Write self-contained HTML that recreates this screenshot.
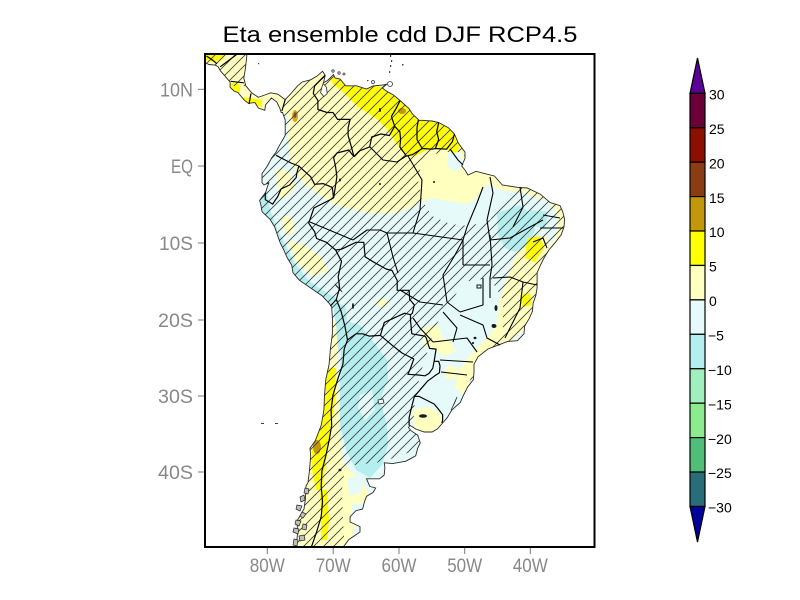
<!DOCTYPE html>
<html><head><meta charset="utf-8"><style>
html,body{margin:0;padding:0;background:#fff;}
svg{display:block;}
</style></head><body>
<svg width="800" height="600" viewBox="0 0 800 600" xmlns="http://www.w3.org/2000/svg">
<defs>
<clipPath id="frame"><rect x="205" y="54" width="389.5" height="493"/></clipPath>
<clipPath id="land"><path transform="translate(-2,0)" d="M198,51.5 L249.1,51.5 L248.5,59.1 L247.1,70.6 L245.8,78.2 L247.8,85.8 L253.7,92.8 L260.3,97.3 L266.8,95 L272.7,92.8 L279.9,94.2 L287.2,99.6 L293,93.5 L299.6,85.8 L304.2,82 L312.7,79.8 L319.3,75.9 L324.5,71.3 L327.2,75.2 L325.5,82.8 L329.6,80.5 L335.5,74.5 L337,78 L342,79 L347.6,85.8 L358.7,85.8 L368.6,89 L375,86 L385,85 L389,84 L384.3,88 L388.3,91 L395.5,95 L402.6,101 L411.1,108.7 L414.4,114 L421,120.2 L434.1,121 L440.7,122.5 L450.5,127.8 L456.4,134 L460.3,143 L467,152.2 L467,158.4 L463.7,166 L467,170 L470,175 L478,171.3 L486.6,173.6 L496.4,176 L504.3,185 L519.4,187.3 L529.2,188 L542.4,194.2 L552.2,202.6 L562,205.6 L564.7,211.7 L566.6,219.3 L566,227 L563.3,234.6 L557.4,242.3 L550.9,250 L546.3,257.5 L542.4,265.2 L539.1,272.8 L539.1,288 L537.8,295.7 L535.1,303.3 L534.5,311 L531.2,318.6 L526.6,326.2 L526,333.8 L519.4,340.7 L509.5,341.5 L499.7,345.3 L489.9,349 L480,356.8 L476,364.3 L476,372 L475.4,379.6 L469.5,387.2 L465.6,395 L462.3,402.5 L453.8,410 L449.2,417.7 L444.6,423 L439.3,429 L434.1,432 L426.3,432 L417.7,429 L411.8,425.3 L410.5,427.6 L413,430.7 L419.7,435.2 L422.3,442.8 L419.7,448.2 L417.7,455.8 L407.9,461.2 L394.7,463.6 L386.2,462.8 L386.9,467.4 L386.2,475 L381.6,478.8 L368.5,478.8 L371.8,486.4 L377.7,488 L375,492.5 L368.5,496.3 L366.5,501.6 L364.6,509.1 L358,510.6 L352.1,516.7 L352.1,522 L362,526.6 L362,532 L350.8,539.6 L342.3,551 L298,551 L299.6,532 L299,521 L306,509 L307.5,498 L308,486 L310,482.5 L311.4,471 L312.7,455.8 L312,448.2 L317.3,440.6 L323.2,425.3 L325.9,410 L326.5,395 L327.8,379.6 L331.1,364.3 L332.4,349 L334.4,333.8 L334.4,318.6 L333.7,307 L331.1,303.3 L324,295.7 L312.7,288 L301.6,280.4 L295,272.8 L293.7,265.2 L289.1,257.5 L285.8,250 L282,242.3 L279.3,234.6 L276.7,227 L272,219.3 L264,211.7 L263,205.6 L261.6,200.3 L267.5,192.7 L270.8,182.7 L266,185 L264,182.7 L264,173.6 L269.4,166 L273.4,158.4 L278,152.2 L280.6,146.9 L287.2,135.4 L287.2,120 L284.5,112.5 L283.2,112.5 L282,108.7 L278.7,101.9 L273.4,98 L267.5,104.9 L266.8,110.3 L260.3,108 L257,102.6 L250.5,103.3 L246.5,100.3 L243.9,97.3 L240,92.6 L236,91 L232.1,87.3 L232.1,82 L228.8,78.2 L222.2,70.6 L220.2,66.8 L217.6,65.2 L211,64.5 L204.5,61.4 L198,59 Z"/></clipPath>
<pattern id="hatch" patternUnits="userSpaceOnUse" width="10" height="10"><path d="M-1,1 L1,-1 M0,10 L10,0 M9,11 L11,9" stroke="#3c3c3c" stroke-width="0.8"/></pattern>
<mask id="hm" maskUnits="userSpaceOnUse" x="0" y="0" width="800" height="600">
<rect x="0" y="0" width="800" height="600" fill="#fff"/>
<path fill="#000" d="M422,160 L440,152 L462,152 L472,168 L490,174 L515,185 L512,195 L500,205 L490,220 L470,226 L450,224 L432,216 L422,200 L418,180 Z"/>
<path fill="#000" d="M440,318 L452,302 L462,282 L490,278 L503,300 L503,330 L490,345 L478,358 L470,380 L462,398 L450,415 L448,425 L440,437 L420,437 L413,428 L415,400 L420,375 L428,350 L434,330 Z"/>
<path fill="#000" d="M345,466 L382,462 L430,445 L430,552 L345,552 L343,520 L342,490 Z"/>
<path fill="#000" d="M205,86 L283,86 L283,118 L205,118 Z"/>
</mask>
</defs>

<rect x="0" y="0" width="800" height="600" fill="#fff"/>

<!-- Title -->
<text x="400" y="42" font-family="Liberation Sans, sans-serif" font-size="22" text-anchor="middle" textLength="355" lengthAdjust="spacingAndGlyphs" fill="#000">Eta ensemble cdd DJF RCP4.5</text>

<g clip-path="url(#frame)">
 <g clip-path="url(#land)">
  <rect x="190" y="45" width="420" height="520" fill="#e6fafa"/>
  <!-- north light yellow -->
  <path fill="#ffffc0" d="M200,50 L600,50 L600,212 L560,212 L545,200 L520,192 L500,190 L490,184 L483,188 L477,198 L467,204 L447,201 L433,198 L418,203 L408,209 L395,213 L375,214 L355,210 L335,205 L320,195 L305,185 L295,172 L290,158 L288,140 L289,120 L284,112 L200,114 Z"/>
  <path fill="#e6fafa" d="M448,153 L460,152 L464,165 L456,172 L447,166 Z"/>
  <!-- NE coastal yellow -->
  <path fill="#ffffc0" d="M552,205 L570,205 L570,250 L548,262 L545,250 L556,238 L558,220 Z"/>
  <!-- SE yellow -->
  <path fill="#ffffc0" d="M522,238 L548,236 L548,300 L540,320 L522,332 L502,346 L486,354 L478,366 L470,382 L463,394 L455,388 L458,372 L468,358 L480,345 L490,335 L497,322 L500,300 L506,280 L513,262 L519,248 Z"/>
  <path fill="#ffffc0" d="M435,338 L450,340 L455,352 L443,356 L433,348 Z"/>
  <path fill="#ffffc0" d="M447,365 L458,368 L455,380 L445,378 Z"/>
  <path fill="#ffffc0" d="M412,410 L430,407 L442,416 L440,428 L428,433 L415,430 Z"/>
  <path fill="#ffffc0" d="M422,328 L438,325 L443,340 L435,350 L424,346 Z"/>
  <ellipse cx="382" cy="303" rx="6" ry="4" fill="#ffffc0"/>
  <!-- Peru andes yellow -->
  <path fill="#ffffc0" d="M283,215 L293,218 L295,232 L287,236 L282,225 Z"/>
  <path fill="#ffffc0" d="M288,240 L305,245 L322,258 L328,272 L312,276 L296,262 Z"/>
  <path fill="#ffffc0" d="M276,168 L289,172 L296,186 L288,196 L280,198 L277,185 Z"/>
  <!-- Chile / Patagonia yellow -->
  <path fill="#ffffc0" d="M325,320 L338,320 L338,372 L340,433 L343,463 L357,477 L367,490 L375,505 L365,515 L355,525 L350,550 L290,550 L300,470 L315,420 Z"/>
  <path fill="#e6fafa" d="M360,466 L385,463 L383,478 L365,479 Z"/>
  <path fill="#e6fafa" d="M347,478 L360,476 L362,492 L350,496 Z"/>
  <path fill="#e6fafa" d="M352,505 L364,503 L362,518 L352,520 Z"/>
  <!-- darker cyan -->
  <path fill="#b4eeee" d="M342,320 L360,325 L372,340 L387,360 L388,380 L380,400 L387,425 L388,445 L382,465 L370,478 L356,470 L346,450 L340,425 L340,390 L341,355 Z"/>
  <path fill="#e6fafa" d="M360,395 L372,390 L375,410 L365,420 L358,408 Z"/>
  <path fill="#b4eeee" d="M259,190 L267,190 L270,210 L278,230 L288,250 L296,265 L308,280 L325,292 L340,300 L338,310 L315,300 L298,290 L285,275 L276,255 L268,235 L262,215 Z"/>
  <path fill="#b4eeee" d="M333,303 L345,305 L348,330 L345,350 L338,350 L336,325 Z"/>
  <path fill="#b4eeee" d="M497,213 L520,205 L532,215 L535,230 L528,245 L515,252 L505,248 L498,235 Z"/>
  <path fill="#b4eeee" d="M530,210 L548,212 L545,228 L532,226 Z"/>
  <!-- bright yellow -->
  <path fill="#ffff00" d="M328,76 L345,80 L360,84 L375,86 L388,88 L398,95 L408,104 L420,114 L432,119 L448,124 L456,132 L461,146 L456,153 L446,149 L436,147 L425,151 L412,157 L402,152 L394,140 L386,128 L378,120 L368,113 L358,107 L350,99 L342,91 L334,85 Z"/>
  <path fill="#ffff00" d="M205,52 L228,52 L222,60 L212,62 L205,60 Z"/>
  <path fill="#ffff00" d="M230,83 L240,84 L240,93 L232,92 Z"/>
  <path fill="#ffff00" d="M243,97 L262,100 L262,107 L246,103 Z"/>
  <path fill="#ffff00" d="M322,368 L336,368 L335,400 L330,430 L327,455 L324,475 L322,490 L316,490 L312,470 L312,450 L316,425 L319,400 Z"/>
  <path fill="#ffff00" d="M320,490 L327,490 L329,520 L327,540 L321,540 L321,515 Z"/>
  <path fill="#ffff00" d="M527,238 L540,236 L544,248 L535,262 L525,258 Z"/>
  <path fill="#ffff00" d="M520,295 L530,293 L532,305 L522,307 Z"/>
  <!-- gold / brown patches -->
  <ellipse cx="402" cy="111" rx="4" ry="3" fill="#c4960a"/>
  <ellipse cx="295" cy="116" rx="3" ry="6" fill="#d8a820"/>
  <ellipse cx="295" cy="115" rx="1.5" ry="3" fill="#a0522d"/>
  <ellipse cx="317" cy="447" rx="4" ry="7" fill="#c4960a"/>
  <!-- hatching -->
  <rect x="190" y="45" width="420" height="520" fill="url(#hatch)" mask="url(#hm)"/>
 </g>

 <!-- coastline -->
 <path transform="translate(-2,0)" fill="none" stroke="#2a2a2a" stroke-width="0.9" d="M198,51.5 L249.1,51.5 L248.5,59.1 L247.1,70.6 L245.8,78.2 L247.8,85.8 L253.7,92.8 L260.3,97.3 L266.8,95 L272.7,92.8 L279.9,94.2 L287.2,99.6 L293,93.5 L299.6,85.8 L304.2,82 L312.7,79.8 L319.3,75.9 L324.5,71.3 L327.2,75.2 L325.5,82.8 L329.6,80.5 L335.5,74.5 L337,78 L342,79 L347.6,85.8 L358.7,85.8 L368.6,89 L375,86 L385,85 L389,84 L384.3,88 L388.3,91 L395.5,95 L402.6,101 L411.1,108.7 L414.4,114 L421,120.2 L434.1,121 L440.7,122.5 L450.5,127.8 L456.4,134 L460.3,143 L467,152.2 L467,158.4 L463.7,166 L467,170 L470,175 L478,171.3 L486.6,173.6 L496.4,176 L504.3,185 L519.4,187.3 L529.2,188 L542.4,194.2 L552.2,202.6 L562,205.6 L564.7,211.7 L566.6,219.3 L566,227 L563.3,234.6 L557.4,242.3 L550.9,250 L546.3,257.5 L542.4,265.2 L539.1,272.8 L539.1,288 L537.8,295.7 L535.1,303.3 L534.5,311 L531.2,318.6 L526.6,326.2 L526,333.8 L519.4,340.7 L509.5,341.5 L499.7,345.3 L489.9,349 L480,356.8 L476,364.3 L476,372 L475.4,379.6 L469.5,387.2 L465.6,395 L462.3,402.5 L453.8,410 L449.2,417.7 L444.6,423 L439.3,429 L434.1,432 L426.3,432 L417.7,429 L411.8,425.3 L410.5,427.6 L413,430.7 L419.7,435.2 L422.3,442.8 L419.7,448.2 L417.7,455.8 L407.9,461.2 L394.7,463.6 L386.2,462.8 L386.9,467.4 L386.2,475 L381.6,478.8 L368.5,478.8 L371.8,486.4 L377.7,488 L375,492.5 L368.5,496.3 L366.5,501.6 L364.6,509.1 L358,510.6 L352.1,516.7 L352.1,522 L362,526.6 L362,532 L350.8,539.6 L342.3,551 M298,551 L299.6,532 L299,521 L306,509 L307.5,498 L308,486 L310,482.5 L311.4,471 L312.7,455.8 L312,448.2 L317.3,440.6 L323.2,425.3 L325.9,410 L326.5,395 L327.8,379.6 L331.1,364.3 L332.4,349 L334.4,333.8 L334.4,318.6 L333.7,307 L331.1,303.3 L324,295.7 L312.7,288 L301.6,280.4 L295,272.8 L293.7,265.2 L289.1,257.5 L285.8,250 L282,242.3 L279.3,234.6 L276.7,227 L272,219.3 L264,211.7 L263,205.6 L261.6,200.3 L267.5,192.7 L270.8,182.7 L266,185 L264,182.7 L264,173.6 L269.4,166 L273.4,158.4 L278,152.2 L280.6,146.9 L287.2,135.4 L287.2,120 L284.5,112.5 L283.2,112.5 L282,108.7 L278.7,101.9 L273.4,98 L267.5,104.9 L266.8,110.3 L260.3,108 L257,102.6 L250.5,103.3 L246.5,100.3 L243.9,97.3 L240,92.6 L236,91 L232.1,87.3 L232.1,82 L228.8,78.2 L222.2,70.6 L220.2,66.8 L217.6,65.2 L211,64.5 L204.5,61.4 L198,59"/>

 <!-- lakes & islands -->
 <g transform="translate(-2,0)" fill="#fff" stroke="#2a2a2a" stroke-width="0.8">
  <path d="M325.2,83.5 L328.5,87.3 L329.2,93.5 L325.9,96.6 L322.6,92.8 L324,86.6 Z"/>
  <path d="M337,284 L342.3,289.6 L344.2,292 L339,286.8 Z"/>
  <path d="M459,397 L455,406 L453,410 L457,402 Z"/>
  <path d="M380,400 L385,399 L386,403 L381,404 Z"/>
 </g>
 <g fill="#1a1a1a" stroke="none">
  <ellipse cx="423" cy="416" rx="4" ry="1.8"/>
  <ellipse cx="496" cy="308" rx="1.5" ry="3"/>
  <ellipse cx="494" cy="326" rx="2.5" ry="2"/>
  <ellipse cx="475" cy="338" rx="1.5" ry="1.2"/>
  <ellipse cx="493" cy="325" rx="1" ry="1"/>
  <ellipse cx="473" cy="343" rx="1.2" ry="1"/>
  <ellipse cx="353" cy="306" rx="1" ry="3"/>
  <ellipse cx="340" cy="180" rx="1" ry="1.5"/>
  <ellipse cx="380" cy="184" rx="1" ry="1"/>
  <ellipse cx="434" cy="182" rx="1" ry="1"/>
  <ellipse cx="380" cy="110" rx="1" ry="2"/>
  <ellipse cx="340" cy="470" rx="1.5" ry="1.2"/>
 </g>
 <rect x="477" y="285" width="4" height="3" fill="none" stroke="#000" stroke-width="0.9"/>
 <!-- Caribbean & Pacific islands -->
 <g fill="#fff" stroke="#333" stroke-width="0.8">
  <circle cx="390" cy="84" r="2.5"/>
  <circle cx="373" cy="82" r="1.5"/>
  <circle cx="333" cy="71" r="1.2"/>
  <circle cx="339" cy="73" r="1.2"/>
  <circle cx="344" cy="74" r="1"/>
 </g>
 <g fill="#444">
  <rect x="390" y="55" width="1.2" height="2"/><rect x="391" y="60" width="1.2" height="2"/>
  <rect x="390" y="65" width="1.2" height="2"/><rect x="389" y="71" width="1.2" height="2"/>
  <rect x="402" y="64" width="1.5" height="1.5"/><rect x="258" y="63" width="1.2" height="1.2"/>
  <rect x="261" y="423" width="3" height="1"/><rect x="275" y="423" width="3" height="1"/>
  <rect x="367" y="80" width="1.5" height="1.2"/>
 </g>
 <!-- Chilean archipelago -->
 <g fill="#bfbfbf" stroke="#222" stroke-width="0.7">
  <path d="M300,497 L304,495 L305,500 L301,502 Z"/>
  <path d="M297,505 L302,506 L300,511 L296,509 Z"/>
  <path d="M302,512 L306,514 L303,518 L300,516 Z"/>
  <path d="M296,520 L301,521 L299,526 L295,524 Z"/>
  <path d="M294,528 L299,529 L298,534 L293,532 Z"/>
  <path d="M299,536 L304,535 L305,540 L300,541 Z"/>
  <path d="M294,539 L298,540 L297,546 L293,545 Z"/>
  <path d="M303,524 L307,525 L306,530 L302,529 Z"/>
  <path d="M305,488 L309,489 L308,494 L304,493 Z"/>
 </g>

 <!-- country borders -->
 <g transform="translate(-2,0)" fill="none" stroke="#000" stroke-width="1.2" stroke-linejoin="round">
  <polyline points="327.2,75.6 320.5,82 316.6,86 315.3,93.5 319.9,100.4 319.9,109.5 329.1,112.5 335,112.5 339.6,119.4 352.1,119.4 350.1,127.8 350.1,135.4 353.4,146.9 356,156.8"/>
  <polyline points="356,156.8 350.7,150 338.9,153 335.6,157.6 337.6,166.8 338.9,176.7 335.6,198"/>
  <polyline points="335.6,198 334.3,187.4 325.1,183.6 316.6,184.3 312.6,176.7 307.4,172.1 300.8,166 293,163 287.1,160 278.1,155.3"/>
  <polyline points="300.8,166 298.9,172.9 298.2,177.5 291.6,185 283.1,188.9 279.8,196.5 274.6,204.1 267.3,199.6 267.3,192.7"/>
  <polyline points="335.6,198 315.9,208 310.7,223.2 316.6,231.6 318.6,238.5 328.4,242.3 337.6,250"/>
  <polyline points="337.6,250 343.5,261.3 340.2,276.6 341.6,288 338.3,299.5 332.4,306"/>
  <polyline points="338.3,299.5 343,311 346.9,326.1 349.5,339.9"/>
  <polyline points="349.5,339.9 346.2,349.1 344.9,364.3 339.6,379.6 335,395 333.1,410 333.7,425.3 331.1,440.6 327.8,455.8 323.9,471 323.2,486.4 324.5,501.6 323.2,516.7 318.6,532 313.3,547.2 318.6,555"/>
  <polyline points="349.5,339.9 358,333.8 364.6,333.8 371.2,336.1 382.4,335.4"/>
  <polyline points="382.4,335.4 386.3,322.4 406.6,313.2 412.5,314.7 412.5,320"/>
  <polyline points="337.6,250 343.5,249.2 358,242.3 365.8,242.3 367.1,256.8 374.3,261.3 388.1,269 394,270.5 399.2,280.4 399.2,290.3 411.1,290.3 411.7,299.5 416.3,304.8 414.4,313.2 412.5,314.7"/>
  <polyline points="412.5,320 413.8,333.8 426.9,336.1 428.2,337.7 431.5,348.4 438.1,349.1 436.1,361.3"/>
  <polyline points="382.4,335.4 394.2,345.3 404,353 415.8,359 412.5,368.2 409.9,374.3 420.4,375 427,375.8 430.9,373.5 434.8,368.2 436.1,361.3"/>
  <polyline points="436.1,361.3 440.7,361.3 442,365.9 441.4,372.8 436.8,375.8 429.5,381.2 423,388.8 416.4,396.4"/>
  <polyline points="416.4,396.4 413.8,406.3 411.1,417.8 411.1,425.4"/>
  <polyline points="416.4,396.4 421,396.4 430.2,401 436.1,404 440,408.6 444.6,414.7 444.6,420 444,423"/>
  <polyline points="356,156.8 361.9,150.7 371.7,146.9 373.7,137 382.9,134 391.4,135.5 396.7,126.3"/>
  <polyline points="396.7,126.3 393.4,116.4 398,108.7 401.9,101"/>
  <polyline points="396.7,126.3 401.9,131.9 402.6,139.5 401.9,147 408.5,156.1 414.4,154.6 420.9,150.7 424.2,148.5"/>
  <polyline points="424.2,148.5 419,139.5 419,127.8 420.3,120.2"/>
  <polyline points="424.2,148.5 434.1,149.2 437.4,148.5 448.5,149.2 454.4,141.6 456.4,134"/>
  <polyline points="437.4,148.5 440.7,139.5 438.7,131.9 440.7,122.5"/>
  <polyline points="287.2,99.6 283.9,111"/>
  <polyline points="253,93.5 251,104"/>
  <polyline points="245.8,82.8 232.7,81.3"/>
  <polyline points="249.1,51.5 240.6,53 232,59.5 222.2,66.8"/>
  <polyline points="208.5,56 214.4,60 219,63.8"/>
 </g>
 <!-- Brazilian state borders -->
 <g fill="none" stroke="#000" stroke-width="1.1" stroke-linejoin="round">
  <path d="M408,156 L422,180 L420,210 L413,233"/>
  <path d="M370,147 L383,160 L397,162 L406,156"/>
  <path d="M310,222 L353,240 M353,240 L367,230 L380,230 L387,233 L413,233"/>
  <path d="M387,233 L393,257 L398,273"/>
  <path d="M413,233 L463,240"/>
  <path d="M483,187 L477,203 L467,227 L463,240 L463,265"/>
  <path d="M490,177 L493,193 L487,220 L490,240"/>
  <path d="M520,187 L523,207 L513,227"/>
  <path d="M490,240 L510,238 L530,227 L543,220"/>
  <path d="M540,228 L563,228 M543,215 L560,218 M533,242 L543,238 L547,248"/>
  <path d="M463,265 L490,265"/>
  <path d="M490,235 L492,265 L490,278 L490,298"/>
  <path d="M493,278 L510,277 L523,282 L537,285"/>
  <path d="M463,240 L455,255 L443,275 L447,302 L460,312"/>
  <path d="M400,290 L420,302 L443,305"/>
  <path d="M460,312 L483,305 L483,278"/>
  <path d="M460,315 L483,325 L487,338 L500,345"/>
  <path d="M523,282 L520,308 L513,322 L505,338"/>
  <path d="M443,312 L457,328 L453,342"/>
  <path d="M433,342 L467,338 L477,352"/>
  <path d="M413,318 L420,328 L433,342"/>
  <path d="M440,360 L473,362"/>
  <path d="M441,372 L467,375"/>
  <path d="M450,149 L458,160 L463,165"/>
 </g>
</g>

<!-- frame -->
<rect x="205" y="54" width="389.5" height="493" fill="none" stroke="#000" stroke-width="2"/>

<!-- ticks -->
<g stroke="#777" stroke-width="1">
 <line x1="198" y1="89.3" x2="204" y2="89.3"/>
 <line x1="198" y1="166" x2="204" y2="166"/>
 <line x1="198" y1="243" x2="204" y2="243"/>
 <line x1="198" y1="320" x2="204" y2="320"/>
 <line x1="198" y1="396" x2="204" y2="396"/>
 <line x1="198" y1="472" x2="204" y2="472"/>
 <line x1="267.3" y1="548" x2="267.3" y2="554"/>
 <line x1="333.2" y1="548" x2="333.2" y2="554"/>
 <line x1="399" y1="548" x2="399" y2="554"/>
 <line x1="464.7" y1="548" x2="464.7" y2="554"/>
 <line x1="530.3" y1="548" x2="530.3" y2="554"/>
</g>

<!-- axis labels -->
<g font-family="Liberation Sans, sans-serif" font-size="19" fill="#888">
 <text x="193" y="96.5" text-anchor="end" textLength="33" lengthAdjust="spacingAndGlyphs">10N</text>
 <text x="193" y="173" text-anchor="end" textLength="22" lengthAdjust="spacingAndGlyphs">EQ</text>
 <text x="193" y="250" text-anchor="end" textLength="34" lengthAdjust="spacingAndGlyphs">10S</text>
 <text x="193" y="327" text-anchor="end" textLength="35" lengthAdjust="spacingAndGlyphs">20S</text>
 <text x="193" y="403" text-anchor="end" textLength="35" lengthAdjust="spacingAndGlyphs">30S</text>
 <text x="193" y="479" text-anchor="end" textLength="35" lengthAdjust="spacingAndGlyphs">40S</text>
 <text x="267.3" y="572" text-anchor="middle" textLength="35" lengthAdjust="spacingAndGlyphs">80W</text>
 <text x="333.2" y="572" text-anchor="middle" textLength="35" lengthAdjust="spacingAndGlyphs">70W</text>
 <text x="399" y="572" text-anchor="middle" textLength="35" lengthAdjust="spacingAndGlyphs">60W</text>
 <text x="464.7" y="572" text-anchor="middle" textLength="35" lengthAdjust="spacingAndGlyphs">50W</text>
 <text x="530.3" y="572" text-anchor="middle" textLength="35" lengthAdjust="spacingAndGlyphs">40W</text>
</g>

<!-- colorbar -->
<g stroke="#000" stroke-width="1.2">
 <polygon points="690,93.3 705,93.3 697.5,58" fill="#5a0096"/>
 <rect x="690" y="93.3" width="15" height="34.43" fill="#6b0038"/>
 <rect x="690" y="127.73" width="15" height="34.43" fill="#8b1000"/>
 <rect x="690" y="162.16" width="15" height="34.43" fill="#8b3c12"/>
 <rect x="690" y="196.59" width="15" height="34.43" fill="#c4960a"/>
 <rect x="690" y="231.02" width="15" height="34.43" fill="#ffff00"/>
 <rect x="690" y="265.45" width="15" height="34.43" fill="#ffffc0"/>
 <rect x="690" y="299.88" width="15" height="34.43" fill="#e6fafa"/>
 <rect x="690" y="334.31" width="15" height="34.43" fill="#b4eeee"/>
 <rect x="690" y="368.74" width="15" height="34.43" fill="#a0f0be"/>
 <rect x="690" y="403.17" width="15" height="34.43" fill="#8ceb8c"/>
 <rect x="690" y="437.6" width="15" height="34.43" fill="#50be78"/>
 <rect x="690" y="472.03" width="15" height="34.43" fill="#286e78"/>
 <polygon points="690,506.46 705,506.46 697.5,542" fill="#00009b"/>
</g>
<g font-family="Liberation Sans, sans-serif" font-size="14" fill="#000">
 <text x="709" y="99.5">30</text>
 <text x="709" y="133.9">25</text>
 <text x="709" y="168.4">20</text>
 <text x="709" y="202.8">15</text>
 <text x="709" y="237.2">10</text>
 <text x="709" y="271.7">5</text>
 <text x="709" y="306.1">0</text>
 <text x="708" y="340.5">−5</text>
 <text x="708" y="374.9">−10</text>
 <text x="708" y="409.4">−15</text>
 <text x="708" y="443.8">−20</text>
 <text x="708" y="478.2">−25</text>
 <text x="708" y="512.7">−30</text>
</g>
</svg>
</body></html>
